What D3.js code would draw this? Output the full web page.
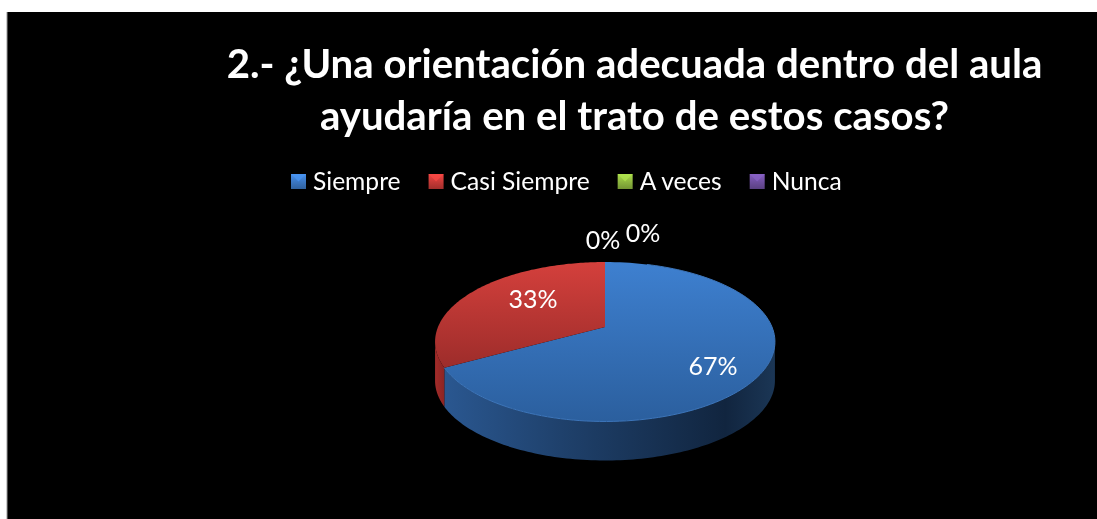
<!DOCTYPE html>
<html><head><meta charset="utf-8">
<script src="https://cdn.jsdelivr.net/npm/d3@7/dist/d3.min.js"></script>
<style>html,body{margin:0;padding:0;background:#fff;overflow:hidden}svg{display:block}</style>
</head><body><svg id="c" width="1097" height="519"></svg>
<script>
const titleLines = ["2.- ¿Una orientación adecuada dentro del aula", "ayudaría en el trato de estos casos?"];
const categories = ["Siempre", "Casi Siempre", "A veces", "Nunca"];
const values = [67, 33, 0, 0];
const percentLabels = ["67%", "33%", "0%", "0%"];
const colors = ["#3b78c4", "#c93a37", "#8fb83f", "#6f4fa0"];

const svg = d3.select("#c");
const font = "Lato, Carlito, sans-serif";
svg.append("rect").attr("x", 7).attr("y", 12).attr("width", 1090).attr("height", 507).attr("fill", "#000");
svg.append("line").attr("x1", 7).attr("x2", 7).attr("y1", 12).attr("y2", 519).attr("stroke", "#999").attr("stroke-width", 1);

const defs = svg.append("defs");
function grad(id, x1, y1, x2, y2, stops) {
  const g = defs.append("linearGradient").attr("id", id).attr("gradientUnits", "userSpaceOnUse")
    .attr("x1", x1).attr("y1", y1).attr("x2", x2).attr("y2", y2);
  stops.forEach(s => g.append("stop").attr("offset", s[0]).attr("stop-color", s[1]));
}
const cx = 605, cy = 327, sx = 167, sy = 77, k = 0.185, depth = 39;
grad("top0", 0, 262, 0, 421, [[0, "#3e80d0"], [1, "#2b5f9e"]]);
grad("top1", 0, 262, 0, 370, [[0, "#d4403c"], [1, "#9c2c2a"]]);
grad("side0", 445, 0, 775, 0, [[0, "#2a5790"], [0.35, "#1f416c"], [0.85, "#11253f"], [1, "#1b3655"]]);
grad("side1", 435, 0, 450, 0, [[0, "#a32c2a"], [1, "#7e1f1e"]]);
svg.append("filter").attr("id", "soft").append("feGaussianBlur").attr("stdDeviation", 0.45);

// projection of the unit disc (pie angle a, radius r) on the tilted plane
const proj = (a, r = 1) => {
  const u = r * Math.sin(a), v = -r * Math.cos(a), w = 1 - k * v;
  return [cx + sx * u / w, cy + sy * v / w];
};
const arcPts = (a0, a1) => d3.range(0, 121).map(i => proj(a0 + (a1 - a0) * i / 120));
const line = d3.line();
const slices = d3.pie().sort(null)(values);
const visA = Math.acos(-k), visB = 2 * Math.PI - visA;

slices.forEach((s, i) => {
  const a0 = Math.max(s.startAngle, visA), a1 = Math.min(s.endAngle, visB);
  if (a1 <= a0 || s.value === 0) return;
  const rim = arcPts(a0, a1);
  const low = rim.map(p => [p[0], p[1] + depth]).reverse();
  svg.append("path").attr("d", line(rim.concat(low)) + "Z").attr("fill", `url(#side${i})`);
});
slices.forEach((s, i) => {
  if (s.value === 0) return;
  svg.append("path").attr("d", line([[cx, cy]].concat(arcPts(s.startAngle, s.endAngle))) + "Z")
    .attr("fill", `url(#top${i})`);
});
svg.append("path").attr("d", line(arcPts(slices[0].startAngle + 0.3, slices[0].endAngle)))
  .attr("fill", "none").attr("stroke", "#3d76bb").attr("stroke-width", 1);

const textG = svg.append("g").attr("filter", "url(#soft)").attr("fill", "#fff").attr("font-family", font);
textG.selectAll("text.t").data(titleLines).join("text").attr("class", "t")
  .attr("x", 634.5).attr("y", (d, i) => 77.5 + i * 52)
  .attr("text-anchor", "middle").attr("font-size", 40.2).attr("font-weight", 700).text(d => d);

const labelAt = [[713, 375], [533, 308], [603, 249], [643, 242]];
textG.selectAll("text.l").data(percentLabels).join("text").attr("class", "l")
  .attr("x", (d, i) => labelAt[i][0]).attr("y", (d, i) => labelAt[i][1])
  .attr("text-anchor", "middle").attr("font-size", 25).text(d => d);

let lx = 291;
categories.forEach((c, i) => {
  const id = "lg" + i, col = d3.color(colors[i]);
  grad(id, 0, 174, 0, 189, [[0, col.brighter(0.5)], [1, col.darker(0.6)]]);
  svg.append("rect").attr("x", lx).attr("y", 174).attr("width", 15).attr("height", 15).attr("fill", `url(#${id})`);
  svg.append("path").attr("d", line([[lx, 174], [lx + 15, 174], [lx + 7.5, 181.5]]) + "Z").attr("fill", col.brighter(0.6)).attr("opacity", 0.7);
  const t = textG.append("text").attr("x", lx + 22).attr("y", 190).attr("font-size", 24.6).text(c);
  lx += 22 + t.node().getComputedTextLength() + 28;
});
</script></body></html>
